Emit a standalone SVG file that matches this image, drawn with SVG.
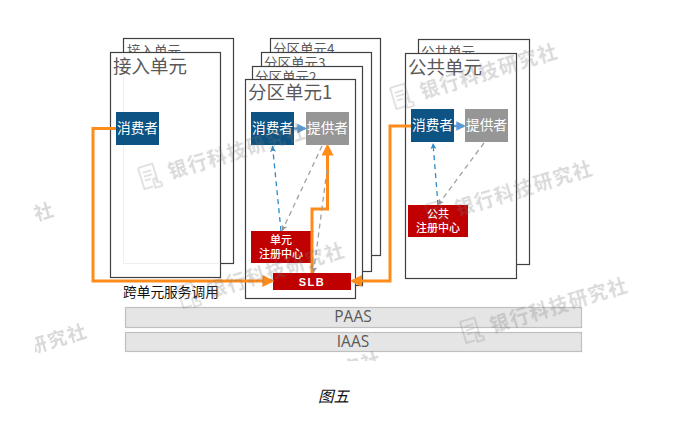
<svg xmlns="http://www.w3.org/2000/svg" width="698" height="427" viewBox="0 0 698 427">
<style>
text{font-family:"Noto Sans CJK SC","Liberation Sans",sans-serif}
.card{fill:#fff;stroke:#404040;stroke-width:1.2}
.ghost{fill:none;stroke:#eee;stroke-width:1}
.t1{font-size:18.5px;fill:#595959}
.t2{font-size:13.5px;fill:#595959}
.blue{fill:#0d5383}
.gray{fill:#969696}
.red{fill:#c00000}
.lbl{font-size:13.700px;fill:#fff;text-anchor:middle}
.sm{font-size:11px;font-weight:500;fill:#fff;text-anchor:middle}
.base{fill:#e5e5e5;stroke:#bfbfbf;stroke-width:1.2}
.bt{font-family:"Open Sans","Liberation Sans",sans-serif;font-size:15.500px;fill:#595959;text-anchor:middle}
.o{fill:none;stroke:#ff8c1a;stroke-width:3}
.bl{fill:none;stroke:#2e8bc9;stroke-width:1.3;stroke-dasharray:5 4}
.gr{fill:none;stroke:#a0a0a0;stroke-width:1.3;stroke-dasharray:5 4}
.sb{fill:none;stroke:#5b9bd5;stroke-width:2.4}
.wm{font-size:19px;font-weight:bold;fill:#777;letter-spacing:1.5px}
.wmi{fill:none;stroke:#777;stroke-width:1.5}
</style>
<defs>
<marker id="ao" markerWidth="4" markerHeight="4" refX="3.200" refY="2" orient="auto"><path d="M0 0L4 2L0 4z" fill="#ff8c1a"/></marker>
<marker id="ab" markerWidth="8" markerHeight="8" refX="6" refY="3" orient="auto" markerUnits="userSpaceOnUse"><path d="M0 0L6 3L0 6L1.500 3z" fill="#2e8bc9"/></marker>
<marker id="ag" markerWidth="8" markerHeight="8" refX="6" refY="3" orient="auto" markerUnits="userSpaceOnUse"><path d="M0 0L6 3L0 6L1.500 3z" fill="#969696"/></marker>
<marker id="as" markerWidth="4" markerHeight="4" refX="3.200" refY="2" orient="auto"><path d="M0 0L4 2L0 4z" fill="#5b9bd5"/></marker>
<g id="wi">
<path class="wmi" d="M0 0h15v18M0 0v22h9M3 6h9M3 10h9M3 14h6"/>
<path class="wmi" d="M11 24v-8a1.500 1.500 0 0 1 3 0v3l4 1v4z"/>
</g>
<clipPath id="wc"><rect x="0" y="0" width="698" height="361"/></clipPath>
<clipPath id="wl"><rect x="35" y="0" width="663" height="427"/></clipPath>
</defs>

<g id="access-unit">
<rect class="card" x="123.500" y="38.500" width="110" height="225"/>
<text class="t2" x="127" y="56">接入单元</text>
<rect class="card" x="110.500" y="52.500" width="110" height="225"/>
<path class="ghost" d="M123.500 53V263.500H220"/>
<text class="t1" x="113" y="73">接入单元</text>
</g>
<g id="access-consumer"><rect class="blue" x="116" y="112" width="43" height="33"/><text class="lbl" x="137.500" y="133">消费者</text></g>

<g id="partition-4"><rect class="card" x="270.500" y="38.500" width="110" height="217"/><text class="t2" x="273" y="54">分区单元4</text></g>
<g id="partition-3"><rect class="card" x="261.500" y="52.500" width="110" height="219"/><text class="t2" x="264" y="68">分区单元3</text></g>
<g id="partition-2"><rect class="card" x="252.500" y="66.500" width="110" height="219"/><text class="t2" x="255" y="82">分区单元2</text></g>
<g id="partition-1"><rect class="card" x="245.500" y="79.500" width="110" height="219"/><text class="t1" x="248" y="99">分区单元1</text></g>
<g id="partition-consumer"><rect class="blue" x="251" y="112" width="43" height="33"/><text class="lbl" x="272.500" y="133">消费者</text></g>
<g id="partition-provider"><rect class="gray" x="306" y="112" width="43" height="33"/><text class="lbl" x="327.500" y="133">提供者</text></g>
<g id="partition-registry"><rect class="red" x="251" y="231" width="60.500" height="32"/><text class="sm" x="281" y="244">单元</text><text class="sm" x="281" y="258">注册中心</text></g>
<g id="slb"><rect class="red" x="273" y="273" width="78" height="17"/><text class="sm" x="312" y="285.500" style="font-weight:bold;font-family:'Liberation Sans',sans-serif" letter-spacing="1.500">SLB</text></g>

<g id="public-unit">
<rect class="card" x="418.500" y="39.500" width="111" height="225"/>
<text class="t2" x="421" y="57">公共单元</text>
<rect class="card" x="405.500" y="53.500" width="111" height="225"/>
<text class="t1" x="408" y="74">公共单元</text>
</g>
<g id="public-consumer"><rect class="blue" x="411" y="109" width="43" height="33"/><text class="lbl" x="432.500" y="130">消费者</text></g>
<g id="public-provider"><rect class="gray" x="465" y="109" width="43" height="33"/><text class="lbl" x="486.500" y="130">提供者</text></g>
<g id="public-registry"><rect class="red" x="408" y="205" width="60" height="32"/><text class="sm" x="438" y="218">公共</text><text class="sm" x="438" y="232">注册中心</text></g>

<g id="platform-paas"><rect class="base" x="125.500" y="307.500" width="456" height="20"/><text class="bt" x="353" y="322">PAAS</text></g>
<g id="platform-iaas"><rect class="base" x="125.500" y="332.500" width="456" height="19"/><text class="bt" x="353" y="347">IAAS</text></g>

<g id="connectors">
<path class="o" d="M116 128.500H93V281H272" marker-end="url(#ao)"/>
<path class="o" d="M411 126H390V281H352.500" marker-end="url(#ao)"/>
<path class="o" d="M312 273V209H327.500V146" marker-end="url(#ao)"/>
<path class="sb" d="M294 128.500H305" marker-end="url(#as)"/>
<path class="sb" d="M454 126H464" marker-end="url(#as)"/>
<path class="bl" d="M281 231L272.500 146" marker-end="url(#ab)"/>
<path class="gr" d="M322 146L282 231" marker-end="url(#ag)"/>
<path class="gr" d="M327 170L313.500 273" marker-end="url(#ag)"/>
<path class="bl" d="M438 205L433 143" marker-end="url(#ab)"/>
<path class="gr" d="M484 143L438 205" marker-end="url(#ag)"/>
</g>

<text x="123" y="296.500" font-size="13.700" fill="#111">跨单元服务调用</text>
<text x="318" y="402" font-size="15.500" font-style="italic" fill="#111">图五</text>

<g id="watermarks" opacity="0.28" clip-path="url(#wc)">
<g transform="translate(138 168) rotate(-17)"><use href="#wi"/><text class="wm" x="28" y="20">银行科技研究社</text></g>
<g transform="translate(390 88) rotate(-17)"><use href="#wi"/><text class="wm" x="28" y="20">银行科技研究社</text></g>
<g transform="translate(425 205) rotate(-17)"><use href="#wi"/><text class="wm" x="28" y="20">银行科技研究社</text></g>
<g transform="translate(177 287) rotate(-17)"><use href="#wi"/><text class="wm" x="28" y="20">银行科技研究社</text></g>
<g transform="translate(460 322) rotate(-17)"><use href="#wi"/><text class="wm" x="28" y="20">银行科技研究社</text></g>
<g clip-path="url(#wl)"><g transform="rotate(-17 60 335)"><text class="wm" x="26" y="345">研究社</text></g></g>
<g transform="rotate(-17 42 212)"><text class="wm" x="34" y="219">社</text></g>
<g transform="rotate(-17 360 360)"><text class="wm" x="340" y="372">究社</text></g>
</g>
</svg>
